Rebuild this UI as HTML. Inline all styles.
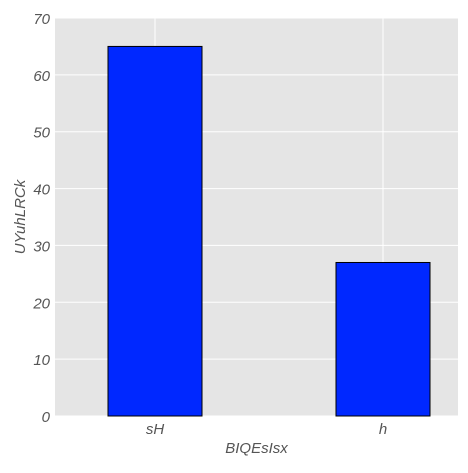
<!DOCTYPE html>
<html><head><meta charset="utf-8"><style>
body{margin:0;background:#fff;}
svg text{font-family:"Liberation Sans",sans-serif;font-style:italic;fill:#555;}
</style></head><body>
<svg width="468" height="468" xmlns="http://www.w3.org/2000/svg" id="chart"></svg>
<script>
const categories=["sH","h"];
const values=[65,27];
const yTicks=[0,10,20,30,40,50,60,70];
const L=55,R=458,T=18,B=416,yMax=70;
const svg=document.getElementById('chart');
const NS="http://www.w3.org/2000/svg";
function y(v){return B-(v/yMax)*(B-T);}
const step=(R-L)/categories.length;
function xc(i){return L+step*(i+0.5)-46+47*0;}
function mk(t,a,name,parent){const e=document.createElementNS(NS,t);for(const k in a)e.setAttribute(k,a[k]);


(parent||svg).appendChild(e);return e;}
mk('rect',{x:L,y:T,width:R-L,height:B-T,fill:'#e5e5e5'},'plot-background');
const centers=categories.map((c,i)=>155+i*228);
yTicks.forEach(v=>{
 mk('line',{x1:L,x2:R,y1:y(v),y2:y(v),stroke:'#fff','stroke-width':1},'y-gridline');
 const t=mk('text',{x:L-5,y:y(v)+6,'text-anchor':'end','font-size':15},'y-tick-label');t.textContent=v;
});
centers.forEach(c=>mk('line',{x1:c,x2:c,y1:T,y2:B,stroke:'#fff','stroke-width':1},'x-gridline'));
const bw=94;
categories.forEach((c,i)=>{
 mk('rect',{x:centers[i]-bw/2,y:y(values[i]),width:bw,height:B-y(values[i]),fill:'#0028ff',stroke:'#000','stroke-width':1},'bar-'+c);
 const t=mk('text',{x:centers[i],y:B+18,'text-anchor':'middle','font-size':15},'x-tick-label');t.textContent=c;
});
const xt=mk('text',{x:(L+R)/2,y:453,'text-anchor':'middle','font-size':15},'x-axis-title');xt.textContent="BIQEsIsx";
const yt=mk('text',{x:0,y:0,'text-anchor':'middle','font-size':15,transform:`translate(25,${(T+B)/2}) rotate(-90)`},'y-axis-title');yt.textContent="UYuhLRCk";
</script>
</body></html>
